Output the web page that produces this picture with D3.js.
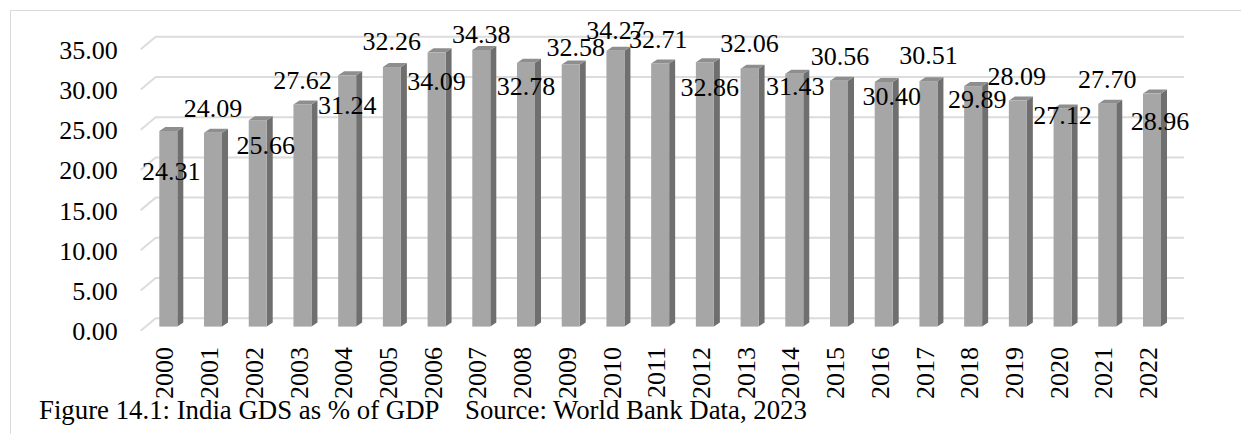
<!DOCTYPE html>
<html>
<head>
<meta charset="utf-8">
<script src="https://cdn.jsdelivr.net/npm/d3@7"></script>
<style>
  body { margin: 0; background: #fff; }
  text { font-family: "Liberation Serif", "Times New Roman", serif; fill: #000; }
</style>
</head>
<body>
<div id="chart"></div>
<script>
var totWidth = 1241;
var totHeight = 434;

//-- Data
var years = ["2000", "2001", "2002", "2003", "2004", "2005", "2006", "2007", "2008", "2009", "2010", "2011",
             "2012", "2013", "2014", "2015", "2016", "2017", "2018", "2019", "2020", "2021", "2022"];
var gds = [24.31, 24.09, 25.66, 27.62, 31.24, 32.26, 34.09, 34.38, 32.78, 32.58, 34.27, 32.71,
           32.86, 32.06, 31.43, 30.56, 30.40, 30.51, 29.89, 28.09, 27.12, 27.70, 28.96];
var yTicks = [0, 5, 10, 15, 20, 25, 30, 35];
var caption = "Figure 14.1: India GDS as % of GDP";
var source = "Source: World Bank Data, 2023";

//-- where Excel put each data label, relative to the top of its bar (px)
var labelShift = [[3, 40], [0, -25], [8, 25], [0, -24], [0, 30], [0, -26], [0, 29], [0, -16],
                  [0, 23], [5, -18], [0, -21], [-2, -25], [5, 25], [0, -26], [1, 12], [1, -25],
                  [8, 14], [0, -26], [4, 13], [-1, -25], [0, 6], [0, -25], [8, 27]];

//-- 3D geometry
var wall = {left: 155.7, right: 1184.1, top: 36.7, bottom: 318.3};
var floorDepth = {dx: -15, dy: 12.5};       // back wall -> front edge of floor
var barPlane = {dx: -9.75, dy: 8.3};        // back wall -> front face of bars
var barDepth = {dx: 6, dy: -4};             // thickness of each bar
var serif = '"Liberation Serif", "Times New Roman", serif';
var fontSize = 26;

var svg = d3.select("#chart")
  .append("svg")
    .attr("width", totWidth)
    .attr("height", totHeight)
    .attr("font-family", serif);

//-- Outer frame
svg.append("rect")
  .attr("x", 10.5).attr("y", 10.5)
  .attr("width", totWidth).attr("height", totHeight)
  .attr("fill", "none")
  .attr("stroke", "#d9d9d9")
  .attr("stroke-width", 1);

//-- Scales
var pad = 1 - 18 / ((wall.right - wall.left) / years.length);
var x = d3.scaleBand()
  .domain(years)
  .range([wall.left, wall.right])
  .paddingInner(pad)
  .paddingOuter(pad / 2);

var y = d3.scaleLinear()
  .domain([0, 35])
  .range([wall.bottom, wall.top]);

//-- Gridlines on back and side wall
svg.append("g")
  .selectAll("path")
  .data(yTicks)
  .enter()
  .append("path")
    .attr("d", function(d) {
      var yb = y(d);
      return "M" + (wall.left + floorDepth.dx) + "," + (yb + floorDepth.dy) +
             "L" + wall.left + "," + yb + "L" + wall.right + "," + yb;
    })
    .attr("fill", "none")
    .attr("stroke", "#dcdcdc")
    .attr("stroke-width", 2);

//-- Y axis labels
var yAxis = d3.axisLeft(y)
  .tickValues(yTicks)
  .tickSize(0)
  .tickPadding(23)
  .tickFormat(d3.format(".2f"));

var gy = svg.append("g")
  .attr("transform", "translate(" + (wall.left + floorDepth.dx) + "," + floorDepth.dy + ")")
  .call(yAxis)
  .attr("font-family", serif)
  .attr("font-size", fontSize);
gy.select(".domain").remove();
gy.selectAll("text")
  .attr("dy", "0.35em");

//-- Bars
var bars = svg.append("g")
  .selectAll("g")
  .data(gds)
  .enter()
  .append("g");

function bx(i) { return x(years[i]) + barPlane.dx; }
function by(v) { return y(v) + barPlane.dy; }
var base = y(0) + barPlane.dy;

bars.append("path")   // side
  .attr("d", function(d, i) {
    var x1 = bx(i) + x.bandwidth(), t = by(d);
    return "M" + x1 + "," + base + "L" + (x1 + barDepth.dx) + "," + (base + barDepth.dy) +
           "L" + (x1 + barDepth.dx) + "," + (t + barDepth.dy) + "L" + x1 + "," + t + "Z";
  })
  .attr("fill", "#6f6f6f");

bars.append("path")   // top
  .attr("d", function(d, i) {
    var x0 = bx(i), x1 = x0 + x.bandwidth(), t = by(d);
    return "M" + x0 + "," + t + "L" + (x0 + barDepth.dx) + "," + (t + barDepth.dy) +
           "L" + (x1 + barDepth.dx) + "," + (t + barDepth.dy) + "L" + x1 + "," + t + "Z";
  })
  .attr("fill", "#8e8e8e");

bars.append("rect")   // front
  .attr("x", function(d, i) { return bx(i); })
  .attr("y", function(d) { return by(d); })
  .attr("width", x.bandwidth())
  .attr("height", function(d) { return base - by(d); })
  .attr("fill", "#a6a6a6");

//-- Data labels
svg.append("g")
  .attr("font-size", fontSize)
  .selectAll("text")
  .data(gds)
  .enter()
  .append("text")
    .attr("x", function(d, i) { return bx(i) + x.bandwidth() / 2 + labelShift[i][0]; })
    .attr("y", function(d, i) { return by(d) + labelShift[i][1]; })
    .attr("dy", "0.35em")
    .attr("text-anchor", "middle")
    .text(function(d) { return d3.format(".2f")(d); });

//-- X axis labels
var xAxis = d3.axisBottom(x)
  .tickSize(0);

var gx = svg.append("g")
  .attr("transform", "translate(" + (barPlane.dx - 4) + ",347)")
  .call(xAxis)
  .attr("font-family", serif)
  .attr("font-size", fontSize);
gx.select(".domain").remove();
gx.selectAll("text")
  .attr("transform", "rotate(-90)")
  .attr("x", 0)
  .attr("y", 0)
  .attr("dy", "0.35em")
  .style("text-anchor", "end");

//-- Caption
svg.append("text")
  .attr("x", 39)
  .attr("y", 419)
  .attr("font-size", 26.8)
  .text(caption);

svg.append("text")
  .attr("x", 465)
  .attr("y", 419)
  .attr("font-size", 26.8)
  .text(source);
</script>
</body>
</html>
